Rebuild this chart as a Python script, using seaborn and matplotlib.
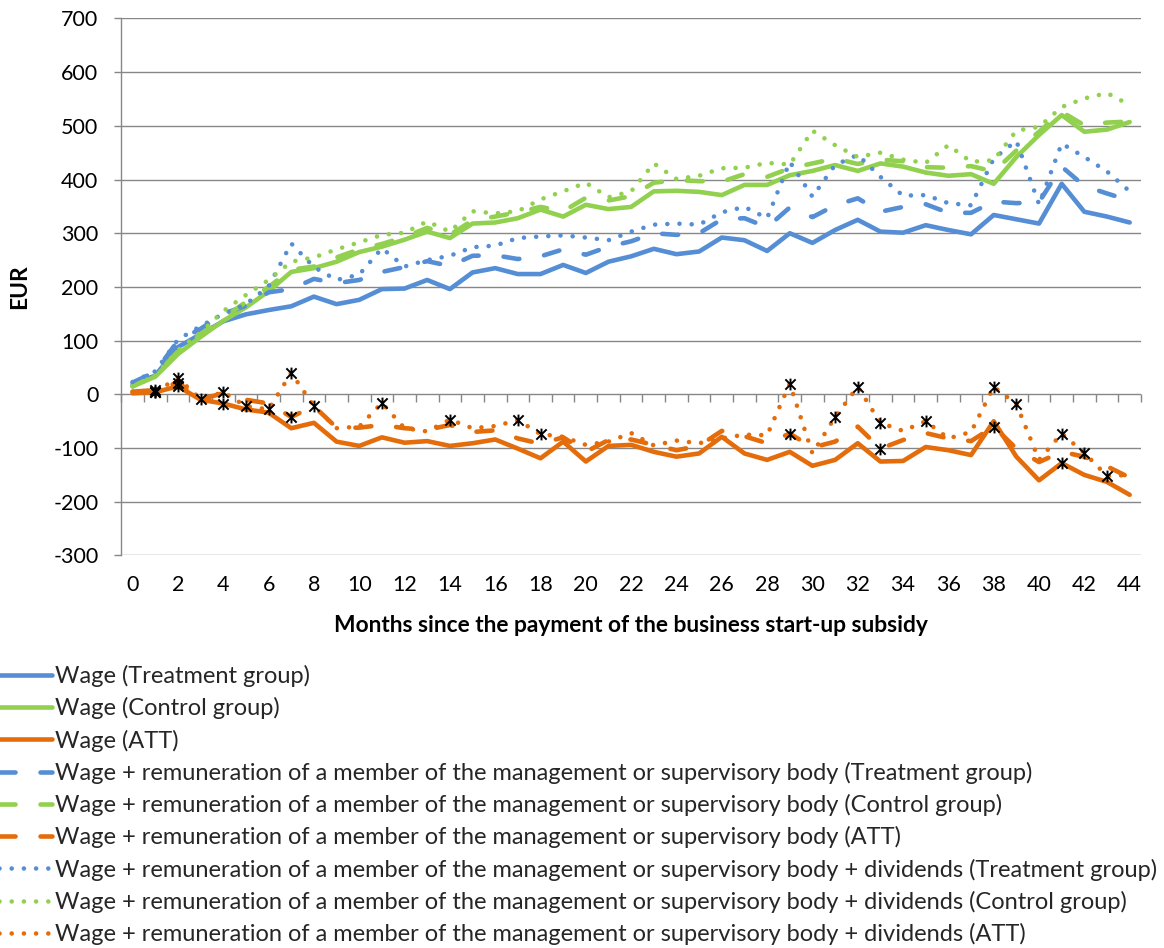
import numpy as np
import pandas as pd
import matplotlib
matplotlib.use("Agg")
import matplotlib.pyplot as plt
from matplotlib.path import Path
import seaborn as sns

# ---------------- data ----------------
months = list(range(45))

wage_treat = [18, 35, 88, 112, 136, 149, 157, 164, 182, 168, 176, 196, 197, 213, 196, 227, 235, 224, 224, 241,
              226, 247, 257, 271, 261, 266, 292, 287, 267, 300, 282, 306, 325, 303, 301, 315, 306, 298, 334, 326,
              318, 392, 340, 331, 320]
wage_ctrl = [15, 33, 75, 107, 137, 162, 192, 228, 235, 247, 265, 275, 288, 303, 291, 318, 320, 328, 344, 331,
             353, 345, 349, 378, 379, 377, 371, 390, 390, 408, 416, 427, 416, 430, 424, 413, 407, 410, 392, 442,
             483, 520, 489, 493, 507]
wage_att = [2, 4, 15, -10, -17, -28, -34, -63, -53, -88, -96, -80, -90, -87, -96, -91, -84, -101, -119, -88,
            -125, -96, -94, -107, -116, -110, -79, -110, -122, -107, -133, -122, -91, -125, -124, -98, -104, -113,
            -50, -116, -160, -128, -150, -163, -187]

rem_treat = [22, 42, 100, 122, 150, 165, 190, 196, 215, 207, 213, 228, 237, 248, 239, 258, 259, 252, 257, 270,
             260, 275, 285, 300, 297, 300, 326, 328, 311, 348, 330, 352, 365, 340, 349, 354, 338, 338, 359, 356,
             358, 424, 388, 374, 361]
rem_ctrl = [15, 35, 80, 112, 142, 172, 200, 232, 238, 255, 270, 280, 293, 310, 297, 324, 331, 339, 349, 341,
            366, 361, 369, 394, 399, 397, 396, 410, 405, 421, 430, 439, 429, 437, 434, 423, 422, 425, 415, 454,
            489, 526, 501, 506, 508]
rem_att = [5, 8, 22, -9, 2, -10, -17, -42, -22, -62, -62, -57, -63, -66, -57, -70, -67, -82, -92, -80, -107,
           -85, -84, -94, -104, -96, -68, -78, -91, -73, -99, -88, -60, -101, -85, -72, -82, -87, -60, -101,
           -126, -107, -116, -134, -155]

div_treat = [23, 43, 102, 127, 150, 168, 201, 281, 237, 213, 223, 272, 238, 250, 258, 274, 277, 291, 294, 296,
             292, 287, 303, 316, 318, 316, 339, 349, 328, 433, 368, 427, 446, 405, 370, 371, 356, 352, 439, 472,
             354, 467, 442, 415, 378]
div_ctrl = [15, 35, 82, 115, 155, 185, 213, 247, 255, 270, 283, 297, 301, 322, 303, 341, 337, 341, 363, 378,
            394, 367, 378, 430, 401, 407, 421, 422, 431, 428, 491, 464, 442, 450, 437, 431, 464, 433, 436, 491,
            498, 535, 551, 561, 539]
div_att = [5, 5, 30, -9, 4, -22, -28, 40, -22, -63, -60, -16, -63, -69, -47, -63, -59, -48, -74, -79, -94, -88,
           -72, -95, -86, -91, -82, -75, -76, 20, -110, -42, 14, -53, -68, -50, -82, -70, 14, -18, -122, -73,
           -109, -152, -150]

# months where the ATT is marked (asterisk)
sig_wage = [1, 2, 4, 41]
sig_rem = [1, 2, 3, 7, 29, 33, 38]
sig_div = [1, 2, 4, 5, 6, 7, 8, 11, 14, 17, 18, 29, 31, 32, 33, 35, 38, 39, 41, 42, 43]

legend_labels = [
    "Wage (Treatment group)",
    "Wage (Control group)",
    "Wage (ATT)",
    "Wage + remuneration of a member of the management or supervisory body (Treatment group)",
    "Wage + remuneration of a member of the management or supervisory body (Control group)",
    "Wage + remuneration of a member of the management or supervisory body (ATT)",
    "Wage + remuneration of a member of the management or supervisory body + dividends (Treatment group)",
    "Wage + remuneration of a member of the management or supervisory body + dividends (Control group)",
    "Wage + remuneration of a member of the management or supervisory body + dividends (ATT)",
]
x_tick_labels = [str(m) for m in range(0, 45, 2)]
y_ticks = list(range(-300, 701, 100))

# ---------------- style ----------------
sns.set_theme(style="white")
plt.rcParams['font.family'] = ['Lato', 'DejaVu Sans']

BLUE = '#558ED5'
GREEN = '#92D050'
ORANGE = '#E46C0A'
GRID = '#878787'
FS = 15.5
FS_LAB = 16.4
FS_LEG = 17
LW = 3.3

fig = plt.figure(figsize=(11.64, 9.48), dpi=100)
ax = fig.add_axes([0.10421, 0.41403, 0.87603, 0.56656])

ls_map = {'solid': '-', 'dash': (0, (3.5, 5.45)), 'dot': (0, (0.01, 2.65))}
series = [
    (wage_treat, BLUE, 'solid'), (wage_ctrl, GREEN, 'solid'), (wage_att, ORANGE, 'solid'),
    (rem_treat, BLUE, 'dash'), (rem_ctrl, GREEN, 'dash'), (rem_att, ORANGE, 'dash'),
    (div_treat, BLUE, 'dot'), (div_ctrl, GREEN, 'dot'), (div_att, ORANGE, 'dot'),
]

handles = []
for (vals, col, st), lab in zip(series, legend_labels):
    df = pd.DataFrame({'month': months, 'EUR': vals})
    n_before = len(ax.lines)
    sns.lineplot(data=df, x='month', y='EUR', ax=ax, color=col, linewidth=LW,
                 linestyle=ls_map[st], solid_capstyle='round', dash_capstyle='round',
                 solid_joinstyle='round', dash_joinstyle='round', legend=False, zorder=3)
    handles.append(ax.lines[n_before])

# asterisk markers
star = Path([(-1, -1), (1, 1), (-1, 1), (1, -1), (0, -1.15), (0, 1.15)],
            [Path.MOVETO, Path.LINETO, Path.MOVETO, Path.LINETO, Path.MOVETO, Path.LINETO])
for vals, sig in [(wage_att, sig_wage), (rem_att, sig_rem), (div_att, sig_div)]:
    ax.plot(sig, [vals[m] for m in sig], linestyle='none', marker=star, markersize=8.5,
            markeredgecolor='black', markerfacecolor='none', markeredgewidth=1.4, zorder=5)

# axes
ax.set_xlim(-0.5, 44.5)
ax.set_ylim(-300, 700)
ax.set_yticks(y_ticks)
ax.set_yticklabels([str(v) for v in y_ticks])
ax.set_xticks(range(0, 45, 2))
ax.set_xticklabels(x_tick_labels)
ax.yaxis.grid(True, color=GRID, linewidth=1.0)
ax.xaxis.grid(False)
ax.set_axisbelow(True)
for s in ['top', 'right', 'bottom']:
    ax.spines[s].set_visible(False)
ax.spines['left'].set_color(GRID)
ax.spines['left'].set_linewidth(1.0)
ax.tick_params(axis='y', left=True, length=5, width=1.0, color=GRID, pad=11.5,
               labelsize=FS, labelcolor='black')
ax.tick_params(axis='x', bottom=True, length=0, pad=14, labelsize=FS, labelcolor='black')

# category tick marks along the zero line
sec = ax.secondary_xaxis(0.3)
sec.set_xticks(np.arange(-0.5, 45, 1))
sec.tick_params(axis='x', direction='out', length=5.8, width=1.0, color=GRID, labelbottom=False)
sec.spines['bottom'].set_visible(False)
sec.set_zorder(1)

ax.set_xlabel("Months since the payment of the business start-up subsidy",
              fontsize=FS_LAB, fontweight='bold', color='black')
ax.xaxis.set_label_coords(0.5, -0.1294)
ax.xaxis.label.set_va('center')
ax.set_ylabel("EUR", fontsize=FS_LAB, fontweight='bold', color='black')
ax.yaxis.set_label_coords(-0.0993, 0.5)
ax.yaxis.label.set_va('center')

fig.legend(handles=handles, labels=legend_labels, loc='upper left',
           bbox_to_anchor=(-10 / 1164, 1 - 665 / 948), bbox_transform=fig.transFigure,
           frameon=False, fontsize=FS_LEG, handlelength=2.63, handletextpad=0.13,
           labelspacing=0.43, borderpad=0, borderaxespad=0)

fig.savefig('out.png', dpi=100, facecolor='white')
